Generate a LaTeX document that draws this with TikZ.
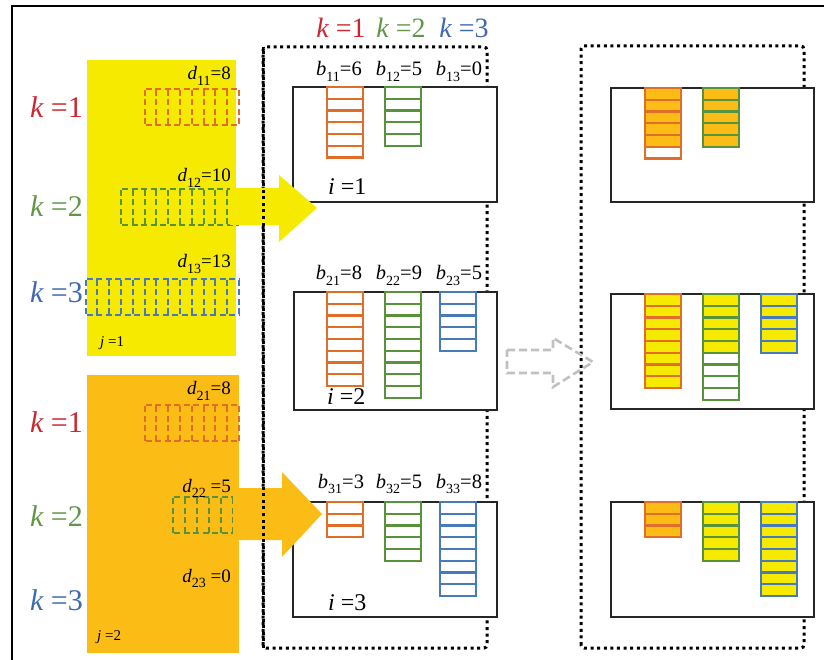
\documentclass[tikz,border=0pt]{standalone}
\usepackage{fontspec}
\setmainfont{Liberation Serif}
\usetikzlibrary{calc}

\definecolor{jyellow}{RGB}{245,234,0}
\definecolor{jorange}{RGB}{251,188,22}
\definecolor{kred}{RGB}{205,38,48}
\definecolor{kgreen}{RGB}{96,150,70}
\definecolor{kblue}{RGB}{62,104,178}
\definecolor{cellred}{RGB}{224,110,40}
\definecolor{cellgreen}{RGB}{88,146,58}
\definecolor{cellblue}{RGB}{72,122,186}
\definecolor{ghost}{RGB}{192,192,192}

% lowered subscript index
\newcommand{\idx}[1]{\raisebox{-0.6ex}{\fontsize{14}{14}\selectfont #1}}

% a stack of capacity cells: x, top y, colour, cells, filled cells, fill colour
\newcommand{\stackcol}[6]{%
  \foreach \c in {1,...,#4}{%
    \ifnum\c>#5\relax\def\fc{white}\else\def\fc{#6}\fi
    \draw[cellbox,draw=#3,fill=\fc] (#1,{#2+(\c-1)*11.75}) rectangle ++(36,11.75);
  }%
}
% a row of dashed demand cells: right x, top y, cells, colour, cell width
\newcommand{\demandrow}[5]{%
  \draw[demandcell,draw=#4] ({#1-#3*#5},#2) -- (#1,#2);
  \draw[demandcell,draw=#4] ({#1-#3*#5},#2+36) -- (#1,#2+36);
  \foreach \c in {0,...,#3}{%
    \draw[demandcell,draw=#4] ({#1-\c*#5},#2) -- ++(0,36);
  }%
}

\begin{document}
\begin{tikzpicture}[x=1pt,y=-1pt,
  cellbox/.style={line width=2.2pt},
  demandcell/.style={line width=2pt,dash pattern=on 6pt off 3.5pt,dash phase=-1pt},
  sitebox/.style={draw=black!85,line width=1.6pt,fill=white},
  dotframe/.style={line width=3pt,dash pattern=on 3pt off 3.6pt,rounded corners=3pt},
  klab/.style={font=\fontsize{30}{32}\selectfont,anchor=base east,inner sep=0pt},
  ktop/.style={font=\fontsize{28}{30}\selectfont,anchor=base,inner sep=0pt},
  vlab/.style={font=\fontsize{20.5}{22}\selectfont,inner sep=0pt},
  dlab/.style={font=\fontsize{19}{21}\selectfont,anchor=base east,inner sep=0pt},
  ilab/.style={font=\fontsize{24}{26}\selectfont,anchor=base west,inner sep=0pt},
  jlab/.style={font=\fontsize{15}{17}\selectfont,anchor=base west,inner sep=0pt},
  bigarrow/.style={draw=none},
  ghostarrow/.style={draw=ghost,line width=2.6pt,dash pattern=on 8pt off 4pt,line join=miter}
]
\useasboundingbox (0,0) rectangle (825,660);

% page frame
\draw[line width=1.5pt] (12,660) -- (12,6) -- (824,6);

% demand blocks of the two customers
\fill[jyellow] (87,60) rectangle (236,356);
\fill[jorange] (87,375) rectangle (239,653);

% demand rows (dashed cells)
\demandrow{239}{89}{8}{cellred}{11.8}
\demandrow{239}{189}{10}{cellgreen}{11.8}
\demandrow{239}{279}{13}{cellblue}{11.8}
\demandrow{239}{405}{8}{cellred}{11.8}
\demandrow{233}{497}{5}{cellgreen}{12}

% commodity labels at the left
\node[klab,text=kred]   (kl1) at (83,118) {{\itshape k} =1};
\node[klab,text=kgreen] (kl2) at (83,217) {{\itshape k} =2};
\node[klab,text=kblue]  (kl3) at (83,303) {{\itshape k} =3};
\node[klab,text=kred]   (kl4) at (83,432) {{\itshape k} =1};
\node[klab,text=kgreen] (kl5) at (83,526) {{\itshape k} =2};
\node[klab,text=kblue]  (kl6) at (83,610) {{\itshape k} =3};

% demand values
\node[dlab] (d11) at (231,80)  {{\itshape d}\idx{11}=8};
\node[dlab] (d12) at (231,182) {{\itshape d}\idx{12}=10};
\node[dlab] (d13) at (231,268) {{\itshape d}\idx{13}=13};
\node[dlab] (d21) at (231,395) {{\itshape d}\idx{21}=8};
\node[dlab] (d22) at (231,492) {{\itshape d}\idx{22} =5};
\node[dlab] (d23) at (231,582) {{\itshape d}\idx{23} =0};

\node[jlab] (j1) at (100,347) {{\itshape j} =1};
\node[jlab] (j2) at (97,640)  {{\itshape j} =2};

% commodity labels on top
\node[ktop,text=kred]   (kt1) at (341,38) {{\itshape k} =1};
\node[ktop,text=kgreen] (kt2) at (401,38) {{\itshape k} =2};
\node[ktop,text=kblue]  (kt3) at (464,38) {{\itshape k} =3};

% dotted frames of the two supply views
\draw[dotframe] (263,648) -- (263,47) -- (487,47) -- (487,648) -- cycle;
\draw[dotframe] (581,648) -- (581,46) -- (804,46) -- (804,648) -- cycle;

% supply sites, initial capacities
\draw[sitebox] (293,87)  rectangle (497,202);
\draw[sitebox] (294,292) rectangle (497,410);
\draw[sitebox] (293,502) rectangle (497,617);
\stackcol{327}{87}{cellred}{6}{0}{white}
\stackcol{385}{87}{cellgreen}{5}{0}{white}
\stackcol{327}{292}{cellred}{8}{0}{white}
\stackcol{385}{292}{cellgreen}{9}{0}{white}
\stackcol{440}{292}{cellblue}{5}{0}{white}
\stackcol{327}{502}{cellred}{3}{0}{white}
\stackcol{385}{502}{cellgreen}{5}{0}{white}
\stackcol{440}{502}{cellblue}{8}{0}{white}

% supply sites after allocation
\draw[sitebox] (611,88)  rectangle (814,202);
\draw[sitebox] (611,294) rectangle (814,409);
\draw[sitebox] (611,502) rectangle (814,617);
\stackcol{645}{88}{cellred}{6}{5}{jorange}
\stackcol{703}{88}{cellgreen}{5}{5}{jorange}
\stackcol{645}{294}{cellred}{8}{8}{jyellow}
\stackcol{703}{294}{cellgreen}{9}{5}{jyellow}
\stackcol{761}{294}{cellblue}{5}{5}{jyellow}
\stackcol{645}{502}{cellred}{3}{3}{jorange}
\stackcol{703}{502}{cellgreen}{5}{5}{jyellow}
\stackcol{761}{502}{cellblue}{8}{8}{jyellow}

% capacity values
\node[vlab,anchor=base] (b11) at (339,76) {{\itshape b}\idx{11}=6};
\node[vlab,anchor=base] (b12) at (399,76) {{\itshape b}\idx{12}=5};
\node[vlab,anchor=base] (b13) at (459,76) {{\itshape b}\idx{13}=0};
\node[vlab,anchor=base] (b21) at (339,280) {{\itshape b}\idx{21}=8};
\node[vlab,anchor=base] (b22) at (399,280) {{\itshape b}\idx{22}=9};
\node[vlab,anchor=base] (b23) at (459,280) {{\itshape b}\idx{23}=5};
\node[vlab,anchor=base] (b31) at (341,488) {{\itshape b}\idx{31}=3};
\node[vlab,anchor=base] (b32) at (399,488) {{\itshape b}\idx{32}=5};
\node[vlab,anchor=base] (b33) at (459,488) {{\itshape b}\idx{33}=8};

\node[ilab] (i1) at (328,195) {{\itshape i} =1};
\node[ilab] (i2) at (327,405) {{\itshape i} =2};
\node[ilab] (i3) at (328,610) {{\itshape i} =3};

% flow arrows
\fill[jyellow,bigarrow] (230,188) -- (279,188) -- (279,175) -- (317,208)
  -- (279,242) -- (279,225) -- (230,225) -- cycle;
\fill[jorange,bigarrow] (233,488) -- (282,488) -- (282,472) -- (322,514)
  -- (282,557) -- (282,540) -- (233,540) -- cycle;
\draw[ghostarrow] (507,350) -- (553,350) -- (553,338) -- (593,362)
  -- (553,387) -- (553,373) -- (507,373) -- cycle;

% left dotted edge stays visible over the arrows
\draw[dotframe] (263,648) -- (263,47);
\end{tikzpicture}
\end{document}
